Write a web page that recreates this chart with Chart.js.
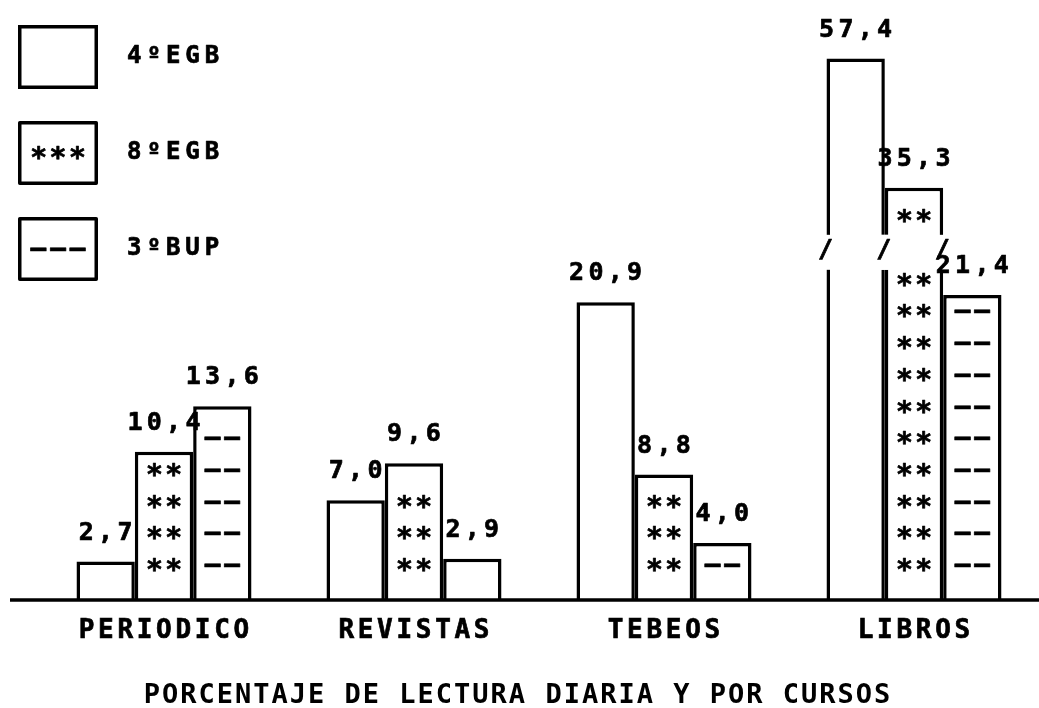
<!DOCTYPE html>
<html>
<head>
<meta charset="utf-8">
<script src="https://cdn.jsdelivr.net/npm/chart.js@4/dist/chart.umd.min.js"></script>
<style>
  html, body { margin: 0; padding: 0; background: #fff; }
  #wrap { width: 1039px; height: 708px; position: relative; }
</style>
</head>
<body>
<div id="wrap"><canvas id="c"></canvas></div>
<script>
// ---------- data ----------
const categories = ['PERIODICO', 'REVISTAS', 'TEBEOS', 'LIBROS'];
const seriesLabels = ['4ºEGB', '8ºEGB', '3ºBUP'];
const egb4 = [2.7, 7.0, 20.9, 57.4];
const egb8 = [10.4, 9.6, 8.8, 35.3];
const bup3 = [13.6, 2.9, 4.0, 21.4];
const barPatterns = ['', '**', '––'];
const legendPatterns = ['', '***', '–––'];
const axisTitle = 'PORCENTAJE DE LECTURA DIARIA Y POR CURSOS';

// broken value axis: above BREAK_AT the scale is compressed
const BREAK_AT = 24.5;
const BREAK_RATIO = 0.41;

const FONT = 'DejaVu Sans Mono';
const fmt = v => v.toFixed(1).replace('.', ',');

// ---------- custom scales ----------
class BrokenScale extends Chart.LinearScale {
  static id = 'broken';
  static defaults = Chart.LinearScale.defaults;
  fwd(v) { return v <= BREAK_AT ? v : BREAK_AT + (v - BREAK_AT) * BREAK_RATIO; }
  inv(t) { return t <= BREAK_AT ? t : BREAK_AT + (t - BREAK_AT) / BREAK_RATIO; }
  configure() {
    super.configure();
    this._startValue = this.fwd(this.min);
    this._endValue = this.fwd(this.max);
    this._valueRange = this._endValue - this._startValue;
  }
  getPixelForValue(v) {
    if (v === null || v === undefined) return NaN;
    return this.getPixelForDecimal((this.fwd(v) - this._startValue) / this._valueRange);
  }
  getValueForPixel(p) {
    return this.inv(this._startValue + this.getDecimalForPixel(p) * this._valueRange);
  }
}

class SpacedCategory extends Chart.CategoryScale {
  static id = 'spacedCategory';
  static defaults = Chart.CategoryScale.defaults;
  drawLabels(area) {
    const c = this.ctx;
    c.save();
    c.letterSpacing = '3.7px';
    c.translate(1.8, 0);
    super.drawLabels(area);
    c.restore();
  }
  drawTitle() {
    const c = this.ctx;
    c.save();
    c.letterSpacing = '2px';
    c.translate(-21, 0);
    super.drawTitle();
    c.restore();
  }
}
Chart.register(BrokenScale, SpacedCategory);

function heavyText(ctx, s, x, y) {
  ctx.fillText(s, x, y);
  ctx.strokeText(s, x, y);
}

function patternFont(ctx, pat) {
  const star = pat.indexOf('*') >= 0;
  ctx.font = star ? `bold 28px "${FONT}"` : `bold 26px "${FONT}"`;
  ctx.letterSpacing = star ? '2.5px' : '4px';
  return star ? 1.25 : 2;
}

// ---------- decoration plugin ----------
const decor = {
  id: 'decor',
  afterDatasetsDraw(chart) {
    const ctx = chart.ctx;
    const ys = chart.scales.y;
    const base = ys.getPixelForValue(0);
    const bp = ys.getPixelForValue(BREAK_AT);
    ctx.save();
    ctx.fillStyle = '#000';
    ctx.strokeStyle = '#000';
    ctx.lineWidth = 0.7;
    ctx.lineJoin = 'round';

    // fill patterns (typed characters, on a row grid from the baseline)
    ctx.textAlign = 'center';
    ctx.textBaseline = 'alphabetic';
    chart.data.datasets.forEach((ds, di) => {
      const pat = barPatterns[di];
      if (!pat) return;
      const dx = patternFont(ctx, pat);
      const m = ctx.measureText(pat);
      const off = (m.actualBoundingBoxAscent - m.actualBoundingBoxDescent) / 2;
      chart.getDatasetMeta(di).data.forEach((el, i) => {
        const top = el.y;
        const broken = ds.data[i] > BREAK_AT;
        for (let k = 0; k < 40; k++) {
          const yc = base - 35 - 31.7 * k;
          if (yc - 9 < top) break;
          if (broken && Math.abs(yc - bp) < 20) continue;
          heavyText(ctx, pat, el.x + dx, yc + off);
        }
      });
    });

    // axis break
    const edges = [];
    chart.data.datasets.forEach((ds, di) => {
      chart.getDatasetMeta(di).data.forEach((el, i) => {
        if (ds.data[i] > BREAK_AT) {
          const w = el.width;
          ctx.fillStyle = '#fff';
          ctx.fillRect(el.x - w / 2 - 4, bp - 16, w + 8, 35);
          [el.x - w / 2, el.x + w / 2].forEach(e => {
            if (!edges.some(q => Math.abs(q - e) < 4)) edges.push(e);
          });
        }
      });
    });
    ctx.fillStyle = '#000';
    ctx.font = `bold 25px "${FONT}"`;
    ctx.letterSpacing = '0px';
    ctx.textBaseline = 'middle';
    edges.forEach(e => heavyText(ctx, '/', e - 1, bp));

    // baseline
    ctx.lineWidth = 3.5;
    ctx.beginPath();
    ctx.moveTo(10, base);
    ctx.lineTo(chart.width, base);
    ctx.stroke();

    // value labels
    ctx.lineWidth = 0.7;
    ctx.font = `bold 25px "${FONT}"`;
    ctx.letterSpacing = '4.3px';
    ctx.textAlign = 'center';
    ctx.textBaseline = 'alphabetic';
    chart.data.datasets.forEach((ds, di) => {
      chart.getDatasetMeta(di).data.forEach((el, i) => {
        heavyText(ctx, fmt(ds.data[i]), el.x + 2.1, el.y - 22);
      });
    });
    ctx.restore();
  },
  afterDraw(chart) {
    // legend
    const ctx = chart.ctx;
    ctx.save();
    chart.data.datasets.forEach((ds, di) => {
      const bx = 18, by = 25 + 96 * di, bw = 80, bh = 64;
      ctx.fillStyle = '#fff';
      ctx.fillRect(bx, by, bw, bh);
      ctx.strokeStyle = '#000';
      ctx.lineWidth = 3.5;
      ctx.strokeRect(bx + 1.75, by + 1.75, bw - 3.5, bh - 3.5);
      const cy = by + bh / 2;
      ctx.fillStyle = '#000';
      ctx.lineWidth = 0.7;
      ctx.lineJoin = 'round';
      const pat = legendPatterns[di];
      if (pat) {
        const dx = patternFont(ctx, pat);
        ctx.textAlign = 'center';
        ctx.textBaseline = 'alphabetic';
        const m = ctx.measureText(pat);
        const off = (m.actualBoundingBoxAscent - m.actualBoundingBoxDescent) / 2;
        heavyText(ctx, pat, bx + bw / 2 + dx, cy + off);
      }
      ctx.font = `bold 24px "${FONT}"`;
      ctx.letterSpacing = '5px';
      ctx.textAlign = 'left';
      ctx.textBaseline = 'middle';
      heavyText(ctx, ds.label, 127, cy);
    });
    ctx.restore();
  }
};

// ---------- chart ----------
const mkDs = (label, data) => ({
  label, data,
  backgroundColor: '#ffffff',
  borderColor: '#000000',
  borderWidth: 3.5,
  categoryPercentage: 0.7,
  barPercentage: 1.0
});

Chart.defaults.font.family = FONT;
Chart.defaults.color = '#000';

new Chart(document.getElementById('c'), {
  type: 'bar',
  data: {
    labels: categories,
    datasets: [
      mkDs(seriesLabels[0], egb4),
      mkDs(seriesLabels[1], egb8),
      mkDs(seriesLabels[2], bup3)
    ]
  },
  options: {
    responsive: true,
    maintainAspectRatio: false,
    animation: false,
    events: [],
    layout: { padding: { left: 39, right: 0, top: 20, bottom: 0 } },
    plugins: { legend: { display: false }, tooltip: { enabled: false } },
    scales: {
      x: {
        type: 'spacedCategory',
        grid: { display: false, drawTicks: false },
        border: { display: false },
        ticks: {
          color: '#000',
          font: { family: FONT, size: 26, weight: 'bold', lineHeight: 1.2 },
          textStrokeColor: '#000',
          textStrokeWidth: 0.7,
          padding: 16,
          maxRotation: 0,
          autoSkip: false
        },
        title: {
          display: true,
          text: axisTitle,
          color: '#000',
          font: { family: FONT, size: 27, weight: 'bold', lineHeight: 0.9 },
          padding: { top: 0, bottom: 0 }
        },
        afterFit: s => { s.height = 108; }
      },
      y: {
        type: 'broken',
        display: false,
        min: 0,
        max: 64
      }
    }
  },
  plugins: [decor]
});
</script>
</body>
</html>
